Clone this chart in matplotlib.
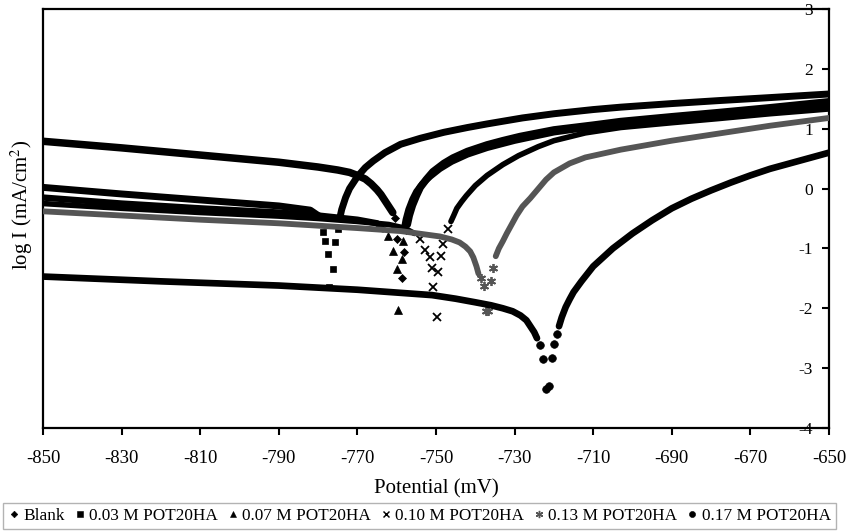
import matplotlib
matplotlib.use('Agg')
import matplotlib.pyplot as plt
from matplotlib.lines import Line2D

plt.rcParams['font.family'] = ['Liberation Serif', 'DejaVu Serif']
plt.rcParams['mathtext.fontset'] = 'stix'

# ---------------- data (potential in mV, log I in mA/cm2) ----------------
labels = ['Blank', '0.03 M POT20HA', '0.07 M POT20HA', '0.10 M POT20HA',
          '0.13 M POT20HA', '0.17 M POT20HA']

# Blank
blank_cath_E = [-850, -830, -810, -790, -780, -775, -772, -770, -768, -766.5, -765, -764, -763, -762, -761]
blank_cath_I = [0.79, 0.68, 0.56, 0.44, 0.36, 0.31, 0.27, 0.22, 0.16, 0.08, -0.02, -0.10, -0.20, -0.30, -0.40]
blank_pts_E = [-760.4, -759.9, -758.1, -758.6, -757.6]
blank_pts_I = [-0.50, -0.84, -1.06, -1.50, -0.70]
blank_an_E = [-757.3, -756.8, -756, -755, -754, -752.5, -750.8, -748, -745.7, -742, -737, -733,
              -728.6, -720, -710, -703, -690, -678, -665, -650]
blank_an_I = [-0.60, -0.45, -0.28, -0.12, 0.02, 0.15, 0.28, 0.42, 0.51, 0.62, 0.73, 0.80,
              0.87, 0.98, 1.06, 1.12, 1.20, 1.27, 1.35, 1.45]

# 0.03 M
c03_cath_E = [-850, -830, -810, -790, -782, -779.3]
c03_cath_I = [0.02, -0.09, -0.19, -0.29, -0.36, -0.48]
c03_pts_E = [-778.8, -778.2, -777.5, -776.2, -777.2, -775.7, -774.9]
c03_pts_I = [-0.73, -0.88, -1.10, -1.35, -1.65, -0.90, -0.68]
c03_an_E = [-774.5, -774, -773, -772, -770, -768, -766, -763, -759, -754, -748, -742, -737,
            -728, -720, -710, -703, -690, -678, -665, -650]
c03_an_I = [-0.50, -0.35, -0.15, 0.00, 0.20, 0.35, 0.46, 0.60, 0.74, 0.84, 0.94, 1.02, 1.08,
            1.18, 1.25, 1.32, 1.36, 1.42, 1.47, 1.52, 1.58]

# 0.07 M
c07_cath_E = [-850, -830, -810, -790, -780, -770, -765, -763.5]
c07_cath_I = [-0.15, -0.25, -0.33, -0.40, -0.45, -0.52, -0.58, -0.68]
c07_pts_E = [-762.2, -760.9, -759.9, -759.7, -758.6, -758.4]
c07_pts_I = [-0.80, -1.05, -1.35, -2.03, -1.17, -0.88]
c07_an_E = [-758.2, -757.7, -757, -756, -755, -753.5, -751.5, -749, -746, -742, -737, -730,
            -720, -710, -703, -690, -678, -665, -650]
c07_an_I = [-0.70, -0.52, -0.35, -0.18, -0.05, 0.08, 0.20, 0.33, 0.45, 0.57, 0.68, 0.80,
            0.94, 1.03, 1.09, 1.17, 1.24, 1.32, 1.41]

# 0.10 M
c10_cath_E = [-850, -830, -810, -790, -780, -770, -762, -758, -755.5]
c10_cath_I = [-0.25, -0.33, -0.40, -0.46, -0.50, -0.55, -0.60, -0.66, -0.75]
c10_pts_E = [-754, -752.8, -751.5, -751, -750.8, -749.8, -749.5, -748.8, -748.2, -747]
c10_pts_I = [-0.85, -1.02, -1.15, -1.32, -1.65, -2.15, -1.40, -1.13, -0.93, -0.68]
c10_an_E = [-746.2, -745.5, -744.7, -743.5, -742.3, -740, -737, -733, -729, -724, -720, -712,
            -703, -690, -678, -665, -650]
c10_an_I = [-0.55, -0.45, -0.33, -0.22, -0.12, 0.05, 0.22, 0.40, 0.55, 0.70, 0.80, 0.93,
            1.02, 1.10, 1.17, 1.25, 1.33]

# 0.13 M
c13_cath_E = [-850, -830, -810, -790, -780, -770, -759, -749, -746, -744, -742.5, -741.3,
              -740.5, -739.7, -739.2]
c13_cath_I = [-0.38, -0.45, -0.52, -0.58, -0.62, -0.66, -0.71, -0.80, -0.85, -0.90, -0.97, -1.05,
              -1.15, -1.30, -1.42]
c13_pts_E = [-738.6, -737.9, -737.2, -736.8, -736, -735.5]
c13_pts_I = [-1.50, -1.62, -2.05, -2.05, -1.55, -1.32]
c13_an_E = [-734.8, -734, -733, -732, -731, -729.5, -728, -726, -722, -720, -716, -712, -703,
            -690, -678, -665, -650]
c13_an_I = [-1.13, -1.00, -0.88, -0.75, -0.63, -0.45, -0.30, -0.16, 0.15, 0.27, 0.42, 0.52, 0.65,
            0.80, 0.92, 1.05, 1.18]

# 0.17 M
c17_cath_E = [-850, -820, -790, -770, -751, -745, -740, -736, -733, -730.5, -728.5, -727, -726,
              -725, -724.3]
c17_cath_I = [-1.47, -1.55, -1.62, -1.69, -1.78, -1.84, -1.90, -1.95, -2.00, -2.05, -2.12, -2.20,
              -2.30, -2.40, -2.50]
c17_pts_E = [-723.5, -722.8, -722.0, -721.3, -720.5, -720.0, -719.2]
c17_pts_I = [-2.62, -2.85, -3.35, -3.30, -2.83, -2.60, -2.43]
c17_an_E = [-718.7, -718, -717, -716, -715, -713, -710, -705, -700, -695, -690, -685, -680,
            -675, -670, -665, -660, -655, -650]
c17_an_I = [-2.30, -2.15, -1.98, -1.85, -1.73, -1.55, -1.30, -1.00, -0.75, -0.53, -0.33, -0.17,
            -0.03, 0.10, 0.22, 0.33, 0.42, 0.51, 0.60]

x_ticks = list(range(-850, -649, 20))
y_ticks = list(range(-4, 4))

# ---------------- styling ----------------
colors = ['#000000', '#000000', '#000000', '#000000', '#555555', '#000000']
markers = ['D', 's', '^', 'x', (6, 2, 0), 'o']
msizes = [4.2, 5.0, 5.5, 6.0, 6.5, 5.5]
lws = [5.4, 5.0, 4.6, 4.0, 4.2, 4.8]

data = [
    (blank_cath_E, blank_cath_I, blank_pts_E, blank_pts_I, blank_an_E, blank_an_I),
    (c03_cath_E, c03_cath_I, c03_pts_E, c03_pts_I, c03_an_E, c03_an_I),
    (c07_cath_E, c07_cath_I, c07_pts_E, c07_pts_I, c07_an_E, c07_an_I),
    (c10_cath_E, c10_cath_I, c10_pts_E, c10_pts_I, c10_an_E, c10_an_I),
    (c13_cath_E, c13_cath_I, c13_pts_E, c13_pts_I, c13_an_E, c13_an_I),
    (c17_cath_E, c17_cath_I, c17_pts_E, c17_pts_I, c17_an_E, c17_an_I),
]

fig = plt.figure(figsize=(8.56, 5.32), dpi=100)
ax = fig.add_axes([43/856, 1-428/532, (829-43)/856, (428-9)/532])

handles = []
for i, (cE, cI, pE, pI, aE, aI) in enumerate(data):
    col, mk, ms, lw = colors[i], markers[i], msizes[i], lws[i]
    z = 2 + i
    ax.plot(cE, cI, color=col, lw=lw, solid_capstyle='round', solid_joinstyle='round', zorder=z)
    ax.plot(aE, aI, color=col, lw=lw, solid_capstyle='round', solid_joinstyle='round', zorder=z)
    mew = 1.3 if mk in ('x', (6, 2, 0)) else 0.5
    ax.plot(pE, pI, linestyle='none', marker=mk, color=col, markersize=ms,
            markeredgewidth=mew, zorder=z)
    handles.append(Line2D([], [], linestyle='none', marker=mk, color=col,
                          markersize=ms*0.8, markeredgewidth=mew*0.8))

ax.set_xlim(-850, -650)
ax.set_ylim(-4, 3)
ax.set_xticks(x_ticks)
ax.set_xticklabels([str(v) for v in x_ticks])
ax.set_yticks(y_ticks)
ax.set_yticklabels([str(v) for v in y_ticks])

for sp in ax.spines.values():
    sp.set_linewidth(1.6)
    sp.set_color('black')

ax.tick_params(axis='x', direction='out', length=5, width=1.5, labelsize=13.5, pad=10.5)
ax.tick_params(axis='y', left=False, labelleft=False, right=True, labelright=True,
               direction='in', length=5, width=1.5, labelsize=12.5, pad=-11.5)
for tk in ax.yaxis.get_major_ticks():
    tk.label2.set_horizontalalignment('right')

ax.set_xlabel('Potential (mV)', fontsize=15, labelpad=9)
ax.yaxis.set_label_position('left')
ax.set_ylabel('log I (mA/cm$^2$)', fontsize=15)
ax.yaxis.set_label_coords(-0.0102, 0.532)

leg = fig.legend(handles, labels, loc='center', bbox_to_anchor=(419.5/856, 1-516/532),
                 ncol=6, fontsize=12.4, frameon=True, fancybox=False,
                 handlelength=0.7, handletextpad=0.2, columnspacing=0.5,
                 borderpad=0.3, borderaxespad=0)
leg.get_frame().set_edgecolor('#a0a0a0')
leg.get_frame().set_linewidth(1.0)

fig.savefig('out.png', dpi=100)
